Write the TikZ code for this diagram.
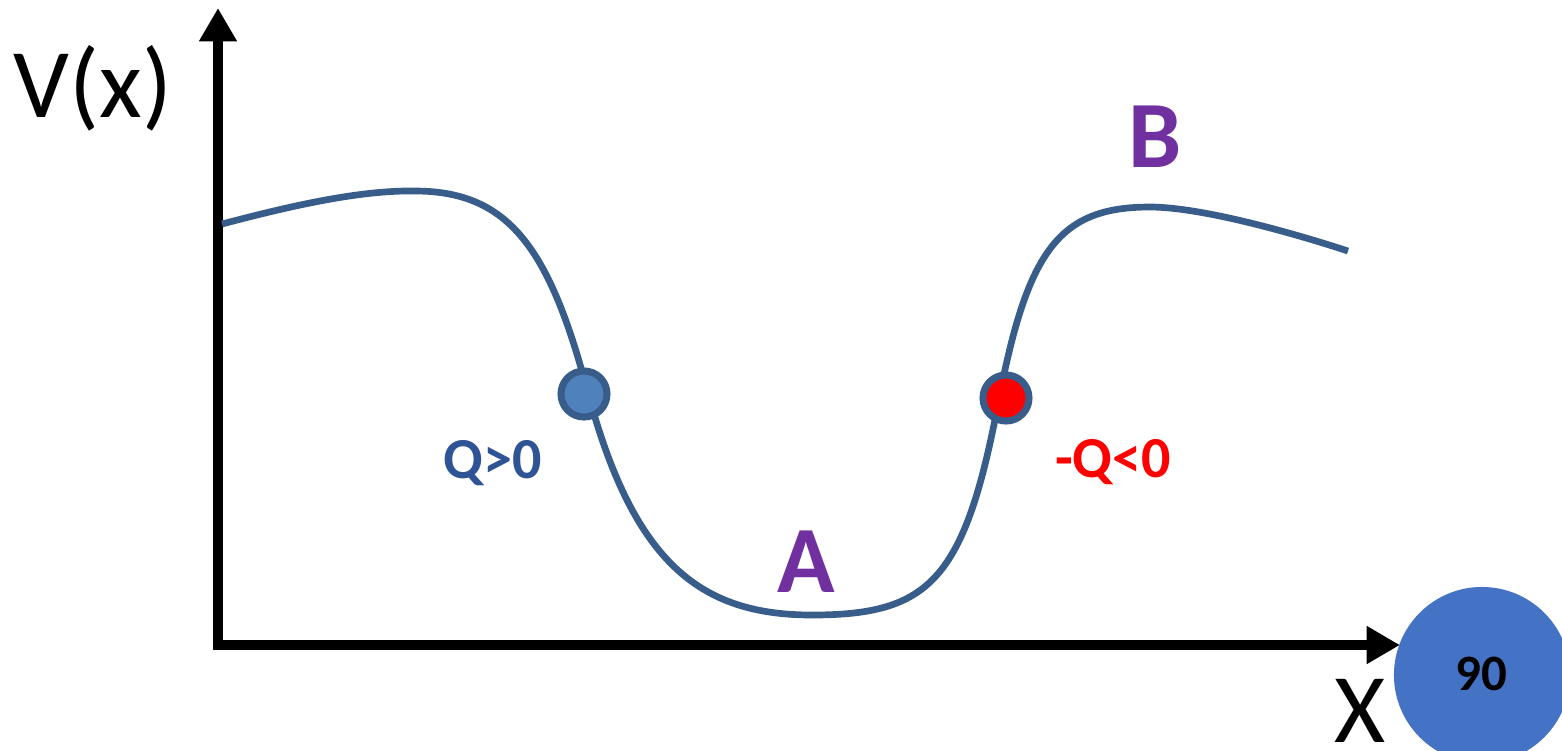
\documentclass[tikz,border=0pt]{standalone}
\usepackage{fontspec}
\setmainfont{Carlito}
\usepackage{xcolor}
\usepackage{tikz}
\usetikzlibrary{positioning,calc,arrows.meta}
\definecolor{PCurve}{HTML}{385D8A}
\definecolor{PDot}{HTML}{4F81BD}
\definecolor{PText}{HTML}{2F5496}
\definecolor{PRed}{HTML}{FF0000}
\definecolor{PPurple}{HTML}{7030A0}
\definecolor{PBadge}{HTML}{4472C4}

\begin{document}
\begin{tikzpicture}[x=0.01cm, y=-0.01cm, every node/.style={inner sep=0pt},
  axis/.style={draw=black, line width=2.85pt, -{Triangle[length=9.5pt,width=10.2pt]}},
  curve/.style={draw=PCurve, line width=1.9pt},
  dot/.style={circle, draw=PCurve, line width=2pt, minimum size=0.46cm},
  biglbl/.style={anchor=base, font=\fontsize{28}{30}\selectfont},
  charge/.style={anchor=base, font=\bfseries\fontsize{16.5}{18}\selectfont},
  well/.style={anchor=base, font=\bfseries\fontsize{27}{29}\selectfont, text=PPurple},
  badge/.style={circle, fill=PBadge, minimum size=1.76cm}]
\useasboundingbox (0,0) rectangle (1562,750);
\coordinate (ytip)   at (218,8);
\coordinate (xtip)   at (1400,645);
\coordinate (ystart) at (218,650);
\coordinate (xstart) at (213,645);
% axes
\draw[axis] (ystart) -- (ytip);
\draw[axis] (xstart) -- (xtip);
\node[biglbl] (vlabel) at (93,117)   {V(x)};
\node[biglbl] (xlabel) at (1360,742) {X};
% potential: barrier, well A, barrier B
\coordinate (k0) at (222,224);
\coordinate (k1) at (415,191);
\coordinate (k2) at (588,393);
\coordinate (k3) at (812,615);
\coordinate (k4) at (999,399);
\coordinate (k5) at (1150,207);
\coordinate (k6) at (1348,251);
\draw[curve] (k0) .. controls (290,206) and (360,190) .. (k1)
  .. controls (510,191) and (550,250) .. (k2)
  .. controls (634,563) and (700,615) .. (k3)
  .. controls (930,615) and (965,580) .. (k4)
  .. controls (1028,249) and (1060,207) .. (k5)
  .. controls (1200,207) and (1290,232) .. (k6);
\node[dot, fill=PDot] (dotQ)    at (584,394)  {};
\node[dot, fill=PRed] (dotnegQ) at (1006,398) {};
\node[charge, text=PText] (qpos) at (493,478)  {Q>0};
\node[charge, text=PRed]  (qneg) at (1113,477) {-Q<0};
\node[well] (lblA) at (806,592) {A};
\node[well] (lblB) at (1155,167) {B};
\node[badge] (pagenum) at (1482,675) {};
\node[anchor=base, font=\bfseries\fontsize{14.5}{16}\selectfont] (pagetxt) at (1481,690) {90};
\end{tikzpicture}
\end{document}
